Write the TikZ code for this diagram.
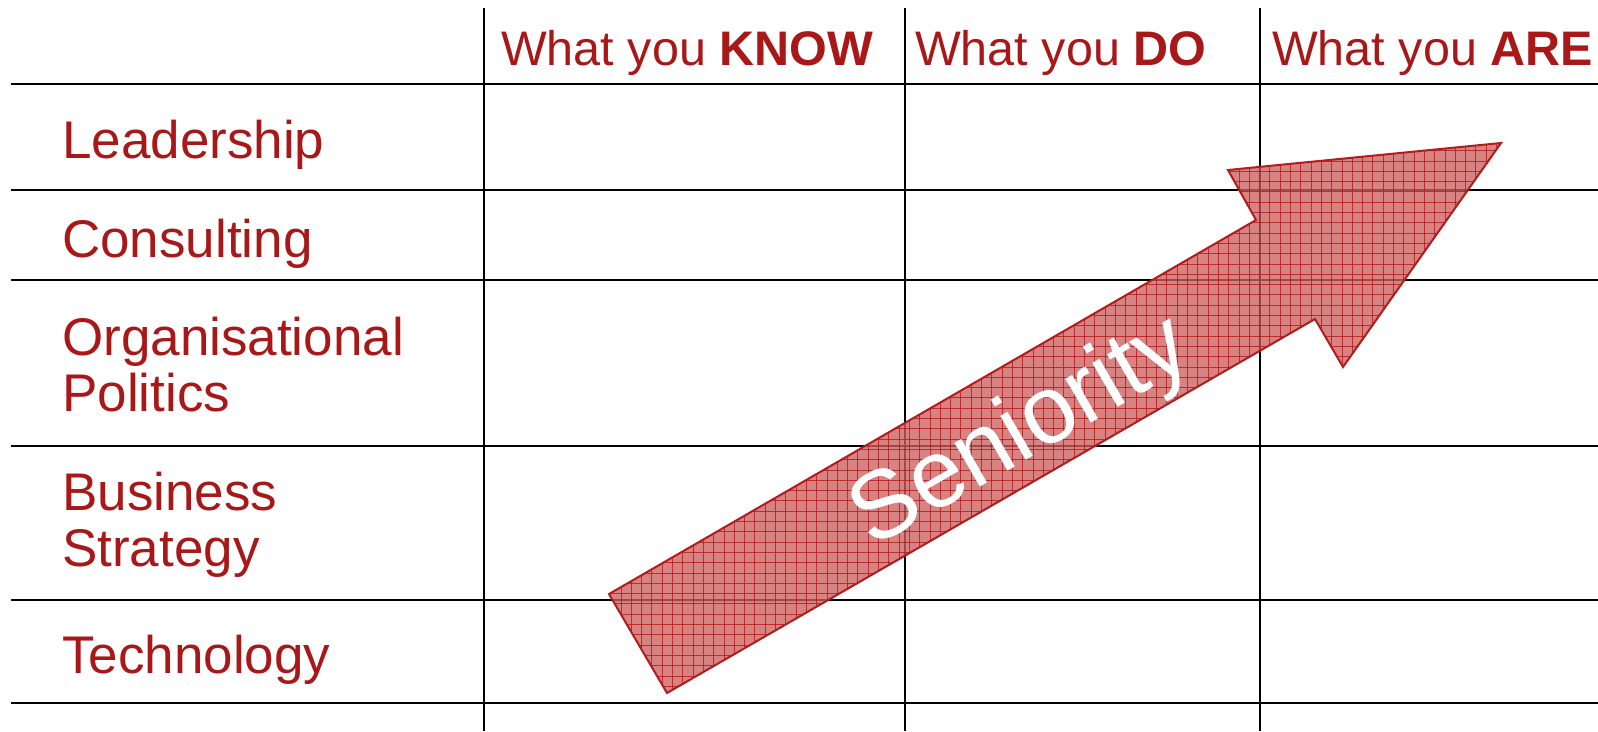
\documentclass[tikz,border=0pt]{standalone}
\usepackage{fontspec}
\setmainfont{Liberation Sans}
\usepackage{tikz}
\usetikzlibrary{positioning,calc}

\definecolor{labelred}{RGB}{168,24,24}
\definecolor{arrowpink}{RGB}{205,95,95}
\definecolor{arrowedge}{RGB}{178,28,28}

\newcommand{\senpath}{(609,594) -- (667,693) -- (1315,319) -- (1343,367) -- (1501,143) -- (1228,170) -- (1256,220) -- cycle}

\tikzset{
 rowlabel/.style={anchor=base west, inner sep=0pt, text=labelred, align=left,
   font=\fontsize{53}{56}\selectfont},
 headlabel/.style={anchor=base west, inner sep=0pt, text=labelred,
   font=\fontsize{48.5}{54}\selectfont},
 tableline/.style={line width=1.8pt, black},
 hatchline/.style={arrowedge, line width=0.8pt, opacity=0.8}
}

\begin{document}
\begin{tikzpicture}[x=1pt, y=-1pt]
\useasboundingbox (0,0) rectangle (1598,731);

\foreach \y in {84, 190, 280, 446, 600, 703}
 \draw[tableline] (11, \y) -- (1598, \y);

\foreach \x in {484, 905, 1260}
 \draw[tableline] (\x, 8) -- (\x, 731);

\node[headlabel] (know) at (501, 65) {What you \textbf{KNOW}};
\node[headlabel] (do) at (915, 65) {What you \textbf{DO}};
\node[headlabel] (are) at (1272, 65) {What you \textbf{ARE}};

\node[rowlabel] (lead) at (62, 158) {Leadership};
\node[rowlabel] (cons) at (62, 257) {Consulting};
\node[rowlabel, anchor=north west] (orgpol) at (62, 317) {Organisational\\Politics};
\node[rowlabel, anchor=north west] (busstr) at (62, 472) {Business\\Strategy};
\node[rowlabel] (tech) at (62, 673) {Technology};

\begin{scope}
 \clip \senpath;
 \fill[arrowpink, fill opacity=0.78] (590,130) rectangle (1510,700);
 \foreach \i in {0,...,90}
  \draw[hatchline] (590+10.3*\i, 130) -- (590+10.3*\i, 700);
 \foreach \i in {0,...,56}
  \draw[hatchline] (590, 130+10.3*\i) -- (1510, 130+10.3*\i);
\end{scope}
\draw[arrowedge, line width=2pt, line join=miter] \senpath;

\node[rotate=30, text=white, inner sep=0pt, font=\fontsize{96}{100}\selectfont] (senior) at (1022, 434) {Seniority};
\end{tikzpicture}
\end{document}
